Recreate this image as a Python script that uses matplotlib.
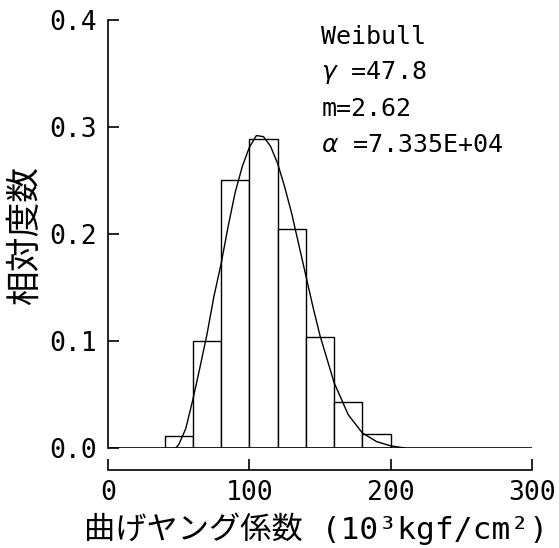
import matplotlib
matplotlib.use("Agg")
import matplotlib.pyplot as plt

# ---------- Histogram (relative frequency per 20-unit class) ----------
bin_left = [40, 60, 80, 100, 120, 140, 160, 180]
bin_width = 20
rel_freq = [0.011, 0.100, 0.250, 0.289, 0.205, 0.104, 0.043, 0.013]

# ---------- Fitted Weibull curve ----------
curve_x = [47.8, 50, 55, 60, 65, 70, 75, 80, 85, 90, 95, 100, 105, 110, 115,
           120, 125, 130, 135, 140, 145, 150, 160, 170, 180, 190, 200, 210]
curve_y = [0.0, 0.003, 0.018, 0.045, 0.075, 0.106, 0.142, 0.172, 0.207, 0.239,
           0.263, 0.281, 0.292, 0.291, 0.282, 0.266, 0.244, 0.219, 0.190,
           0.161, 0.132, 0.105, 0.061, 0.031, 0.014, 0.006, 0.002, 0.0]

x_ticks = [0, 100, 200, 300]
y_ticks = [0.0, 0.1, 0.2, 0.3, 0.4]
y_ticklabels = ['0.0', '0.1', '0.2', '0.3', '0.4']

fit_lines = ['Weibull', r'$\gamma$ =47.8', 'm=2.62', r'$\alpha$ =7.335E+04']

MONO = ['DejaVu Sans Mono', 'Noto Sans CJK JP']
CJK = ['Noto Sans CJK JP', 'DejaVu Sans Mono']

fig = plt.figure(figsize=(5.59, 5.48), dpi=100)
ax = fig.add_axes([0.1932, 0.1825, 0.7585, 0.781])

ax.bar(bin_left, rel_freq, width=bin_width, align='edge',
       facecolor='white', edgecolor='black', linewidth=1.0, zorder=2)
ax.plot(curve_x, curve_y, color='black', linewidth=1.0, zorder=3)
ax.axhline(0, color='black', linewidth=1.2, zorder=4)

ax.set_xlim(0, 300)
ax.set_ylim(0, 0.4)

for side in ['top', 'right']:
    ax.spines[side].set_visible(False)
ax.spines['bottom'].set_position(('outward', 16))
ax.spines['left'].set_linewidth(1.2)
ax.spines['bottom'].set_linewidth(1.2)

ax.set_xticks(x_ticks)
ax.set_xticklabels([str(t) for t in x_ticks])
ax.set_yticks(y_ticks)
ax.set_yticklabels(y_ticklabels)
ax.tick_params(direction='in', length=8, width=1.2, colors='black')
ax.tick_params(axis='x', pad=7)
ax.tick_params(axis='y', pad=8)
for lab in ax.get_xticklabels() + ax.get_yticklabels():
    lab.set_family(MONO)
    lab.set_fontsize(19)

# Fit parameters block
y0 = 0.9325
for i, line in enumerate(fit_lines):
    fig.text(0.575, y0 - i * 0.0657, line, fontsize=18, family=MONO,
             ha='left', va='center')

# Axis titles
fig.text(0.045, 0.571, '相対度数', rotation=90, fontsize=25, family=CJK,
         ha='center', va='center')
fig.text(0.566, 0.035, '曲げヤング係数 (10³kgf/cm²)', fontsize=22.5, family=MONO,
         ha='center', va='center')

fig.savefig('out.png', dpi=100)
